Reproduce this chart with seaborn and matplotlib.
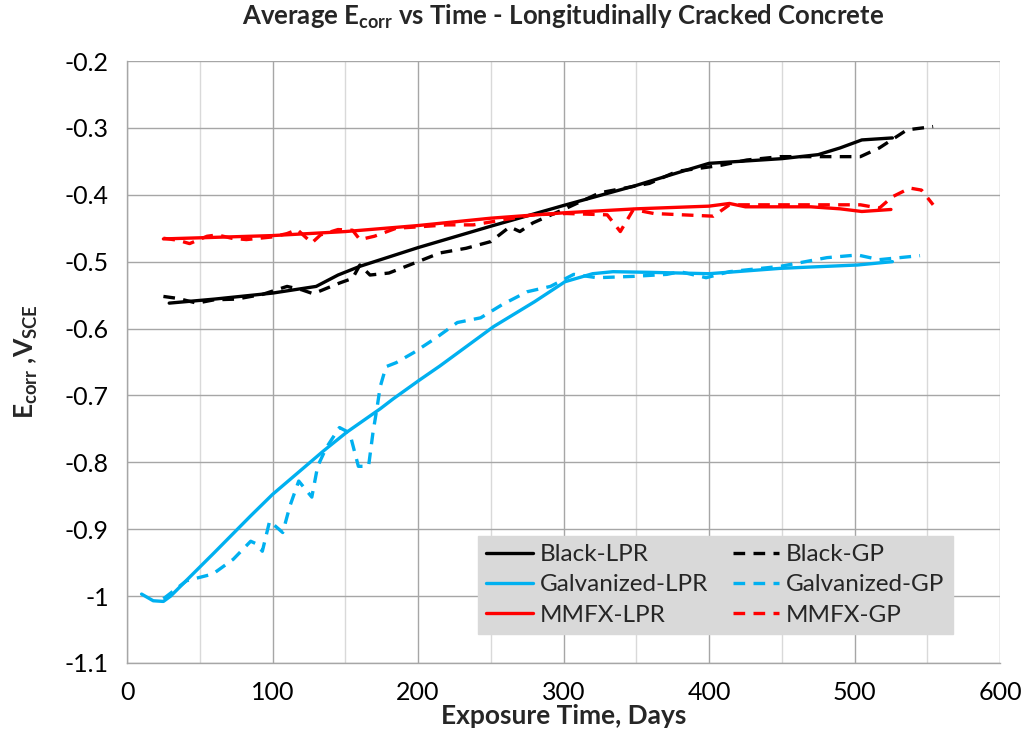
import numpy as np
import pandas as pd
import matplotlib
matplotlib.use("Agg")
import matplotlib.pyplot as plt
import seaborn as sns
from matplotlib.lines import Line2D

# ---------------- data ----------------
black_lpr_x = [29, 60, 100, 130, 145, 160, 200, 250, 300, 350, 380, 400, 450, 475, 490, 505, 526]
black_lpr_y = [-0.562, -0.556, -0.547, -0.537, -0.52, -0.507, -0.479, -0.447, -0.416, -0.386,
               -0.366, -0.353, -0.346, -0.34, -0.33, -0.318, -0.315]

black_gp_x = [25, 35, 48, 60, 75, 93, 110, 120, 128, 146, 155, 160, 167, 180, 200, 215, 233, 250,
              263, 270, 279, 302, 325, 359, 378, 408, 426, 449, 504, 517, 536, 554]
black_gp_y = [-0.552, -0.555, -0.562, -0.557, -0.556, -0.549, -0.537, -0.542, -0.548, -0.532,
              -0.525, -0.505, -0.52, -0.517, -0.500, -0.487, -0.48, -0.47, -0.448, -0.455,
              -0.442, -0.42, -0.397, -0.383, -0.365, -0.356, -0.348, -0.343, -0.343, -0.33,
              -0.303, -0.298]

galv_lpr_x = [10, 18, 25, 30, 60, 85, 100, 135, 151, 174, 183, 201, 215, 252, 280, 301, 320, 334,
              360, 400, 449, 502, 526]
galv_lpr_y = [-0.997, -1.007, -1.008, -1.0, -0.935, -0.880, -0.848, -0.783, -0.755, -0.720,
              -0.705, -0.677, -0.656, -0.597, -0.56, -0.530, -0.518, -0.515, -0.516, -0.518,
              -0.51, -0.505, -0.5]

galv_gp_x = [25, 41, 59, 73, 85, 89, 93, 98, 107, 112, 118, 127, 131, 137, 146, 153, 159, 166,
             169, 172, 174, 178, 185, 197, 213, 227, 243, 258, 275, 291, 307, 323, 348, 371,
             380, 398, 414, 449, 481, 502, 517, 545]
galv_gp_y = [-1.004, -0.977, -0.967, -0.945, -0.918, -0.922, -0.933, -0.888, -0.905, -0.865,
             -0.828, -0.852, -0.806, -0.778, -0.748, -0.756, -0.806, -0.806, -0.756, -0.716,
             -0.687, -0.657, -0.651, -0.636, -0.613, -0.591, -0.584, -0.564, -0.545, -0.537,
             -0.519, -0.524, -0.522, -0.519, -0.515, -0.524, -0.515, -0.507, -0.494, -0.49,
             -0.497, -0.491]

mmfx_lpr_x = [25, 100, 150, 200, 250, 300, 350, 400, 414, 425, 470, 490, 505, 525]
mmfx_lpr_y = [-0.466, -0.461, -0.455, -0.446, -0.435, -0.427, -0.421, -0.417, -0.413, -0.418,
              -0.418, -0.421, -0.425, -0.422]

mmfx_gp_x = [25, 35, 43, 55, 62, 72, 82, 100, 110, 117, 127, 133, 145, 155, 160, 170, 185, 200,
             220, 238, 260, 279, 302, 330, 339, 348, 362, 382, 403, 414, 460, 504, 517, 526,
             538, 546, 554]
mmfx_gp_y = [-0.465, -0.468, -0.473, -0.462, -0.46, -0.465, -0.467, -0.463, -0.458, -0.452,
             -0.472, -0.46, -0.452, -0.453, -0.467, -0.462, -0.45, -0.448, -0.445, -0.445,
             -0.437, -0.43, -0.428, -0.43, -0.455, -0.422, -0.428, -0.43, -0.432, -0.415,
             -0.415, -0.415, -0.42, -0.403, -0.39, -0.393, -0.415]

series_names = ["Black-LPR", "Black-GP", "Galvanized-LPR", "Galvanized-GP", "MMFX-LPR", "MMFX-GP"]
x_ticks = [0, 100, 200, 300, 400, 500, 600]
y_ticks = [-0.2, -0.3, -0.4, -0.5, -0.6, -0.7, -0.8, -0.9, -1.0, -1.1]

# ---------------- build table ----------------
pairs = [(black_lpr_x, black_lpr_y), (black_gp_x, black_gp_y), (galv_lpr_x, galv_lpr_y),
         (galv_gp_x, galv_gp_y), (mmfx_lpr_x, mmfx_lpr_y), (mmfx_gp_x, mmfx_gp_y)]
frames = []
for name, (xs, ys) in zip(series_names, pairs):
    frames.append(pd.DataFrame({"day": xs, "ecorr": ys, "series": name}))
df = pd.concat(frames, ignore_index=True)

colors = {"Black-LPR": "#000000", "Black-GP": "#000000",
          "Galvanized-LPR": "#00B0F0", "Galvanized-GP": "#00B0F0",
          "MMFX-LPR": "#FF0000", "MMFX-GP": "#FF0000"}
dash_map = {n: ("" if n.endswith("LPR") else (3.5, 2.5)) for n in series_names}

# ---------------- plot ----------------
sns.set_theme(style="white")
plt.rcParams["font.family"] = ["Lato", "DejaVu Sans"]
plt.rcParams["mathtext.fontset"] = "custom"
plt.rcParams["mathtext.rm"] = "Lato"
plt.rcParams["mathtext.bf"] = "Lato:bold"

fig = plt.figure(figsize=(10.31, 7.55), dpi=100)
ax = fig.add_axes([0.1232, 0.1219, 0.8468, 0.7973])

sns.lineplot(data=df, x="day", y="ecorr", hue="series", style="series",
             hue_order=series_names, style_order=series_names,
             palette=colors, dashes=dash_map, units="series", estimator=None,
             sort=False, linewidth=2.4, ax=ax, legend=False)

ax.set_xlim(0, 600)
ax.set_ylim(-1.1, -0.2)
ax.set_xticks(x_ticks)
ax.set_xticks([50, 150, 250, 350, 450, 550], minor=True)
ax.set_yticks(y_ticks)
ax.set_xticklabels([str(v) for v in x_ticks], fontsize=18)
ax.set_yticklabels(["%g" % v for v in y_ticks], fontsize=18)

ax.grid(True, which="major", color="#a6a6a6", linewidth=1.0)
ax.grid(True, which="minor", axis="x", color="#d9d9d9", linewidth=1.0)
ax.set_axisbelow(True)

for s in ["top", "right"]:
    ax.spines[s].set_visible(False)
for s in ["left", "bottom"]:
    ax.spines[s].set_color("#a6a6a6")
    ax.spines[s].set_linewidth(1.0)
ax.tick_params(axis="both", which="major", direction="out", length=6, width=1.0,
               color="#a6a6a6", labelcolor="black", pad=7)
ax.tick_params(axis="x", which="minor", length=0)

ax.set_xlabel("Exposure Time, Days", fontsize=19, fontweight="bold", labelpad=0)
ax.set_ylabel(r"E$_\mathbf{corr}$ ,V$_\mathbf{SCE}$", fontsize=19, fontweight="bold", labelpad=18)
ax.set_title(r"Average E$_\mathbf{corr}$ vs Time - Longitudinally Cracked Concrete",
             fontsize=18.5, fontweight="bold", pad=26)

leg_order = ["Black-LPR", "Galvanized-LPR", "MMFX-LPR", "Black-GP", "Galvanized-GP", "MMFX-GP"]
handles = []
for n in leg_order:
    ls = "-" if n.endswith("LPR") else (0, (3.5, 2.5))
    handles.append(Line2D([0], [0], color=colors[n], linestyle=ls, linewidth=2.4))
leg = ax.legend(handles, leg_order, ncol=2, loc="lower right",
                bbox_to_anchor=(0.946, 0.048), fontsize=17.5, frameon=True,
                fancybox=False, handlelength=1.9, columnspacing=1.0, handletextpad=0.3,
                labelspacing=0.38, borderpad=0.35, borderaxespad=0.0)
leg.get_frame().set_facecolor("#d9d9d9")
leg.get_frame().set_edgecolor("#d9d9d9")
leg.get_frame().set_alpha(1.0)

fig.savefig("out.png", dpi=100)
